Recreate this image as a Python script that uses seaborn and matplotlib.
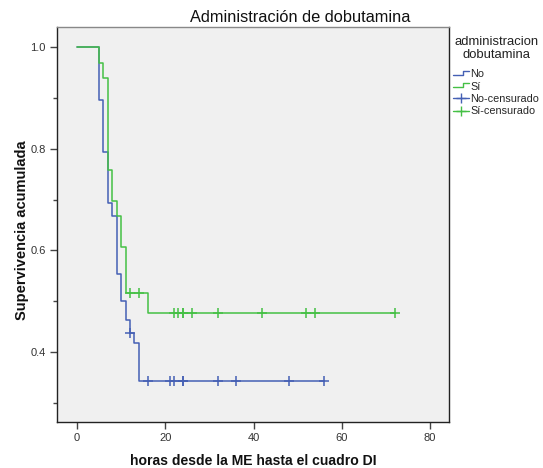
import numpy as np
import pandas as pd
import matplotlib
matplotlib.use("Agg")
import matplotlib.pyplot as plt
from matplotlib.lines import Line2D
from matplotlib.legend_handler import HandlerBase
import seaborn as sns

# ---- data ----
groups = ["No", "Sí"]
no_times = [0, 5, 6, 7, 8, 9, 10, 11, 12, 13, 14]
no_surv = [1.0, 0.897, 0.794, 0.693, 0.667, 0.553, 0.500, 0.462, 0.437, 0.417, 0.343]
no_end = 56
no_censor = [12, 16, 21, 22, 24, 24, 32, 36, 48, 56]

si_times = [0, 5, 6, 7, 8, 9, 10, 11, 16]
si_surv = [1.0, 0.970, 0.939, 0.758, 0.697, 0.667, 0.606, 0.516, 0.476]
si_end = 72
si_censor = [12, 14, 22, 23, 24, 24, 26, 32, 42, 52, 54, 72]

title = "Administración de dobutamina"
xlabel = "horas desde la ME hasta el cuadro DI"
ylabel = "Supervivencia acumulada"
legend_title = "administracion\ndobutamina"
legend_labels = ["No", "Sí", "No-censurado", "Sí-censurado"]
xticks = [0, 20, 40, 60, 80]
yticks = [0.4, 0.6, 0.8, 1.0]
yminor = [0.3, 0.5, 0.7, 0.9]

colors = {"No": "#4560B4", "Sí": "#45C045"}

# ---- build tables ----
rows, crow = [], []
for g, t, s, end, cens in [("No", no_times, no_surv, no_end, no_censor),
                           ("Sí", si_times, si_surv, si_end, si_censor)]:
    tt = list(t) + [end]
    ss = list(s) + [s[-1]]
    for a, b in zip(tt, ss):
        rows.append({"grupo": g, "t": a, "S": b})
    idx = np.searchsorted(np.array(t), np.array(cens), side="right") - 1
    for c, i in zip(cens, idx):
        crow.append({"grupo": g, "t": c, "S": s[i]})
curves = pd.DataFrame(rows)
cens_df = pd.DataFrame(crow)

sns.set_theme(style="white")
plt.rcParams["font.family"] = ["Liberation Sans", "DejaVu Sans"]

W, H = 543, 468
fig = plt.figure(figsize=(W / 100, H / 100), dpi=100)
ax = fig.add_axes([57 / W, 1 - 422 / H, (449 - 57) / W, (422 - 26.5) / H])
ax.set_facecolor("#F0F0F0")

for g in groups:
    sub = curves[curves.grupo == g]
    sns.lineplot(data=sub, x="t", y="S", estimator=None, sort=False,
                 drawstyle="steps-post", color=colors[g], linewidth=1.1,
                 ax=ax, legend=False)
    csub = cens_df[cens_df.grupo == g]
    sns.scatterplot(data=csub, x="t", y="S", marker="+", s=45,
                    color=colors[g], linewidth=1.1, ax=ax, legend=False,
                    zorder=3)

ax.set_xlim(-4.53, 84.3)
ax.set_ylim(0.262, 1.041)
ax.set_xticks(xticks)
ax.set_yticks(yticks)
ax.set_yticks(yminor, minor=True)
ax.set_yticklabels([f"{v:.1f}" for v in yticks])
ax.tick_params(axis="both", which="major", direction="out", length=5,
               width=1, color="#444444", labelsize=8, labelcolor="#333333",
               left=True, bottom=True, pad=3)
ax.tick_params(axis="y", which="minor", direction="out", length=3,
               width=1, color="#444444", left=True)
for sp in ax.spines.values():
    sp.set_color("#222222")
    sp.set_linewidth(1.0)
ax.spines["top"].set_color("#888888")

ax.set_xlabel(xlabel, fontsize=10.1, fontweight="bold", color="#111111",
              va="center")
ax.set_ylabel(ylabel, fontsize=10.5, fontweight="bold", color="#111111",
              va="center")
ax.xaxis.set_label_coords(0.5, (422 - 461) / 395.5)
ax.yaxis.set_label_coords((22 - 57) / 392, (422 - 230) / 395.5)

fig.text(300 / W, 1 - 17 / H, title, ha="center", va="center",
         fontsize=11.8, color="#111111")


class StepHandler(HandlerBase):
    def create_artists(self, legend, orig_handle, xdescent, ydescent,
                       width, height, fontsize, trans):
        x0 = -xdescent
        y0 = -ydescent
        xs = [x0, x0 + 0.62 * width, x0 + 0.62 * width, x0 + width]
        ys = [y0 + 0.3 * height, y0 + 0.3 * height,
              y0 + 0.82 * height, y0 + 0.82 * height]
        ln = Line2D(xs, ys, color=orig_handle.get_color(), linewidth=1.0,
                    transform=trans)
        return [ln]


h_no = Line2D([], [], color=colors["No"])
h_si = Line2D([], [], color=colors["Sí"])
h_nc = Line2D([], [], color=colors["No"], marker="+", markersize=7,
              linewidth=1.0, mew=1.0)
h_sc = Line2D([], [], color=colors["Sí"], marker="+", markersize=7,
              linewidth=1.0, mew=1.0)
leg = fig.legend([h_no, h_si, h_nc, h_sc], legend_labels,
                 handler_map={h_no: StepHandler(), h_si: StepHandler()},
                 title=legend_title, loc="upper left",
                 bbox_to_anchor=(450 / W, 1 - 33 / H), frameon=False,
                 fontsize=7.8, title_fontsize=9.4, handlelength=1.45,
                 handletextpad=0.1, labelspacing=0.22, borderaxespad=0,
                 borderpad=0.3)
leg.get_title().set_multialignment("center")
leg.get_title().set_color("#222222")
leg.get_title().set_linespacing(1.08)
leg._legend_box.sep = 6

fig.savefig("out.png", dpi=100)
